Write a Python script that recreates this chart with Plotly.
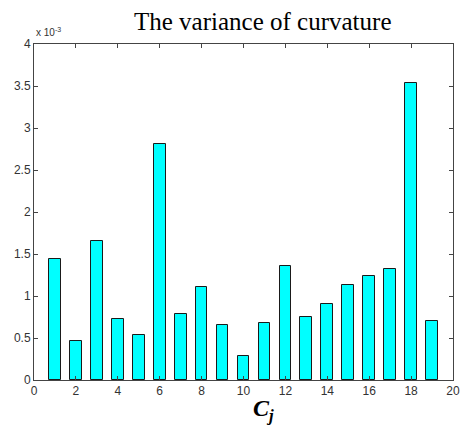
import plotly.graph_objects as go

categories = list(range(1, 20))
variance_e3 = [1.44, 0.47, 1.66, 0.73, 0.53, 2.81, 0.785, 1.105, 0.66, 0.28,
               0.68, 1.36, 0.75, 0.905, 1.13, 1.24, 1.32, 3.53, 0.70]
x_ticks = list(range(0, 21, 2))
y_ticks = [0, 0.5, 1, 1.5, 2, 2.5, 3, 3.5, 4]

W, H = 467, 427
L, R, T, B = 34, 7, 44, 47

fig = go.Figure()
fig.add_trace(go.Bar(
    x=categories, y=variance_e3, width=0.56,
    marker=dict(color="#00FFFF", line=dict(color="#1a1a1a", width=1)),
))

axis_common = dict(showline=True, linecolor="#444444", linewidth=1, mirror="ticks",
                   ticks="inside", ticklen=4, tickcolor="#444444", showgrid=False,
                   zeroline=False,
                   tickfont=dict(family="Liberation Sans, Arial", size=12, color="#333333"))
fig.update_xaxes(range=[0, 20], tickvals=x_ticks, **axis_common)
fig.update_yaxes(range=[0, 4], tickvals=y_ticks, **axis_common)

fig.add_annotation(text="The variance of curvature", xref="paper", yref="paper",
                   x=(266 - L) / (W - L - R), y=1 + (T - 21) / (H - T - B),
                   xanchor="center", yanchor="middle", showarrow=False,
                   font=dict(family="Liberation Serif, Times New Roman", size=25, color="black"))
fig.add_annotation(text="x 10<sup>-3</sup>", xref="paper", yref="paper",
                   x=0, y=1 + (T - 32) / (H - T - B), xanchor="left", yanchor="middle",
                   showarrow=False,
                   font=dict(family="Liberation Sans, Arial", size=10, color="#333333"))
fig.add_annotation(text="<b><i>C<sub>j</sub></i></b>", xref="paper", yref="paper",
                   x=(267 - L) / (W - L - R), y=-(410 - (H - B)) / (H - T - B),
                   xanchor="center", yanchor="middle", showarrow=False,
                   font=dict(family="Liberation Serif, Times New Roman", size=24, color="black"))

fig.update_layout(width=W, height=H, margin=dict(l=L, r=R, t=T, b=B),
                  paper_bgcolor="white", plot_bgcolor="white", showlegend=False,
                  bargap=0)
fig.write_html("out.html")
